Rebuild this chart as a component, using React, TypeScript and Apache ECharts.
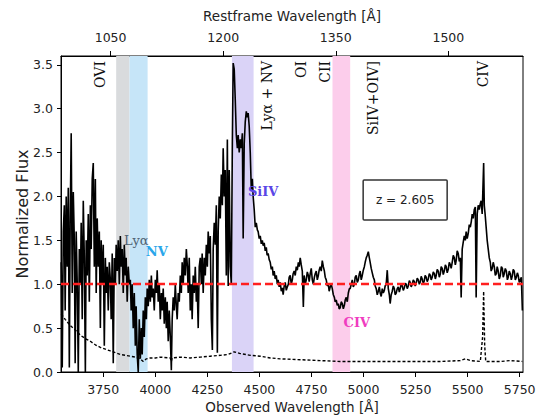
import React, { useEffect, useRef } from "react";
import * as echarts from "echarts";

// ---------- data ----------
const redshift = 2.605;
const obsRange = [3547, 5766];
const fluxRange = [0, 3.6];
const obsTicks = [3750, 4000, 4250, 4500, 4750, 5000, 5250, 5500, 5750];
const restTicks = [1050, 1200, 1350, 1500];
const fluxTicks = [0, 0.5, 1, 1.5, 2, 2.5, 3, 3.5];
const continuumLevel = 1.0;

// shaded wavelength windows (observed Å)
const bandRanges = [
  [3812, 3876],
  [3876, 3963],
  [4368, 4472],
  [4851, 4936],
];

// observed spectrum
const specWave = [
  3548, 3553, 3558, 3563, 3567, 3572, 3577, 3582, 3587, 3591, 3596, 3601, 3606, 3611, 3615, 3620, 3625, 3630, 3635, 3640,
  3644, 3649, 3654, 3659, 3664, 3668, 3673, 3678, 3683, 3688, 3692, 3697, 3702, 3707, 3712, 3716, 3721, 3726, 3731, 3736,
  3740, 3745, 3750, 3755, 3760, 3764, 3769, 3774, 3779, 3784, 3788, 3793, 3798, 3803, 3808, 3812, 3817, 3822, 3827, 3832,
  3836, 3841, 3846, 3851, 3856, 3860, 3865, 3870, 3875, 3880, 3884, 3889, 3894, 3899, 3904, 3908, 3913, 3918, 3923, 3928,
  3933, 3937, 3942, 3947, 3952, 3957, 3961, 3966, 3971, 3976, 3981, 3985, 3990, 3995, 4000, 4005, 4009, 4014, 4019, 4024,
  4029, 4033, 4038, 4043, 4048, 4053, 4057, 4062, 4067, 4072, 4077, 4081, 4086, 4091, 4096, 4101, 4105, 4110, 4115, 4120,
  4125, 4129, 4134, 4139, 4144, 4149, 4154, 4158, 4163, 4168, 4173, 4177, 4182, 4187, 4192, 4197, 4201, 4206, 4211, 4216,
  4221, 4225, 4230, 4235, 4240, 4245, 4250, 4254, 4259, 4264, 4269, 4274, 4278, 4283, 4288, 4293, 4298, 4302, 4307, 4312,
  4317, 4322, 4326, 4331, 4336, 4341, 4346, 4350, 4355, 4360, 4365, 4370, 4374, 4379, 4384, 4389, 4394, 4398, 4403, 4408,
  4413, 4418, 4422, 4427, 4432, 4437, 4442, 4446, 4451, 4456, 4461, 4466, 4470, 4475, 4480, 4485, 4490, 4494, 4499, 4504,
  4509, 4514, 4518, 4523, 4528, 4533, 4537, 4542, 4547, 4552, 4557, 4562, 4566, 4571, 4576, 4581, 4586, 4590, 4595, 4600,
  4605, 4610, 4614, 4619, 4624, 4629, 4634, 4639, 4643, 4648, 4653, 4658, 4662, 4667, 4672, 4677, 4682, 4687, 4691, 4696,
  4701, 4706, 4711, 4715, 4720, 4725, 4730, 4735, 4739, 4744, 4749, 4754, 4759, 4764, 4768, 4773, 4778, 4783, 4787, 4792,
  4797, 4802, 4807, 4812, 4816, 4821, 4826, 4831, 4835, 4840, 4845, 4850, 4855, 4860, 4864, 4869, 4874, 4879, 4883, 4888,
  4893, 4898, 4903, 4908, 4912, 4917, 4922, 4927, 4932, 4936, 4941, 4946, 4951, 4956, 4960, 4965, 4970, 4975, 4980, 4984,
  4989, 4994, 4999, 5004, 5008, 5013, 5018, 5023, 5028, 5032, 5037, 5042, 5047, 5052, 5056, 5061, 5066, 5071, 5076, 5080,
  5085, 5090, 5095, 5100, 5104, 5109, 5114, 5119, 5124, 5128, 5133, 5138, 5143, 5148, 5152, 5157, 5162, 5167, 5172, 5176,
  5181, 5186, 5191, 5196, 5200, 5205, 5210, 5215, 5220, 5224, 5229, 5234, 5239, 5244, 5248, 5253, 5258, 5263, 5268, 5273,
  5277, 5282, 5287, 5292, 5296, 5301, 5306, 5311, 5316, 5321, 5325, 5330, 5335, 5340, 5345, 5349, 5354, 5359, 5364, 5369,
  5373, 5378, 5383, 5388, 5393, 5397, 5402, 5407, 5412, 5417, 5421, 5426, 5431, 5436, 5441, 5445, 5450, 5455, 5460, 5465,
  5469, 5474, 5479, 5484, 5489, 5493, 5498, 5503, 5508, 5513, 5518, 5522, 5527, 5532, 5537, 5541, 5546, 5551, 5556, 5561,
  5565, 5570, 5577, 5580, 5584, 5589, 5594, 5599, 5604, 5609, 5613, 5618, 5623, 5628, 5633, 5638, 5642, 5647, 5652, 5657,
  5662, 5667, 5671, 5676, 5681, 5686, 5691, 5695, 5700, 5705, 5710, 5715, 5719, 5724, 5729, 5734, 5739, 5743, 5748, 5753,
  5758, 5763,
];
const specFlux = [
  1.25, 0.05, 1.6, 1.9, 0.7, 2.0, 1.2, 2.1, 0.05, 1.7, 2.72, 0.9, 2.05, 1.5, 0.1, 1.6, 1.0, 0.0, 1.4, 1.0,
  1.7, 0.6, 1.95, 1.3, 0.0, 1.5, 1.1, 1.8, 0.8, 1.9, 1.4, 2.2, 2.38, 1.2, 2.2, 0.9, 1.75, 1.2, 1.6, 0.5,
  1.5, 1.0, 1.45, 0.3, 1.3, 0.9, 1.2, 0.7, 1.25, 1.05, 0.6, 1.35, 0.1, 1.3, 1.0, 1.45, 1.15, 1.5, 1.0, 1.55,
  1.2, 1.4, 0.9, 1.45, 1.1, 1.3, 0.8, 1.2, 1.0, 1.05, 0.7, 1.0, 0.5, 0.9, 0.3, 0.75, 0.2, 0.0, 0.6, 0.15,
  0.5, 0.2, 0.7, 0.4, 0.85, 0.6, 0.95, 0.75, 1.05, 0.8, 1.1, 0.85, 0.95, 0.7, 1.05, 0.9, 1.16, 0.8, 1.0, 0.6,
  0.9, 0.7, 0.95, 0.55, 0.85, 0.5, 0.8, 0.35, 0.7, 0.4, 0.02, 0.6, 0.85, 0.7, 1.0, 0.75, 0.6, 0.9, 0.8, 1.1,
  0.9, 1.25, 1.0, 1.3, 1.1, 1.4, 1.2, 0.9, 1.3, 0.7, 1.0, 0.6, 1.1, 0.9, 1.2, 0.8, 1.0, 0.5, 1.2, 1.3,
  1.0, 1.35, 0.9, 1.3, 1.1, 1.45, 1.2, 1.6, 1.35, 1.55, 0.6, 0.25, 1.4, 1.7, 1.45, 1.9, 0.22, 1.6, 2.0, 1.75,
  2.25, 1.9, 2.55, 2.0, 2.3, 1.1, 2.65, 0.98, 2.3, 1.2, 1.0, 2.6, 3.52, 3.45, 3.1, 2.7, 2.55, 2.7, 2.5, 2.65,
  2.55, 2.72, 1.52, 2.6, 2.85, 2.97, 2.9, 2.95, 2.8, 2.5, 2.08, 2.2, 2.0, 1.85, 1.65, 1.7, 1.62, 1.6, 1.52, 1.55,
  1.46, 1.5, 1.44, 1.47, 1.38, 1.42, 1.33, 1.35, 1.28, 1.25, 1.17, 1.2, 1.1, 1.15, 1.06, 1.1, 1.0, 1.05, 0.97, 1.02,
  0.92, 0.96, 0.88, 0.98, 1.02, 0.93, 0.97, 1.0, 1.08, 1.1, 1.0, 1.05, 1.12, 1.15, 1.1, 1.2, 1.16, 1.25, 1.2, 1.3,
  1.22, 1.15, 0.74, 1.1, 1.0, 1.05, 1.14, 1.1, 1.03, 1.12, 1.18, 1.05, 1.0, 1.08, 1.12, 1.15, 1.05, 1.1, 1.16, 1.2,
  1.15, 1.27, 1.2, 1.15, 1.08, 1.05, 0.98, 1.0, 0.92, 0.97, 1.0, 0.95, 0.88, 0.85, 0.8, 0.82, 0.76, 0.78, 0.72, 0.73,
  0.8, 0.78, 0.72, 0.76, 0.82, 0.85, 0.8, 0.9, 0.95, 0.95, 1.0, 1.05, 0.97, 1.0, 1.08, 1.1, 1.02, 1.05, 1.12, 1.15,
  1.05, 1.1, 1.16, 1.2, 1.25, 1.3, 1.33, 1.37, 1.3, 1.25, 1.18, 1.13, 1.08, 1.05, 0.98, 0.95, 0.88, 0.92, 0.97, 0.9,
  0.86, 0.95, 0.9, 0.93, 0.98, 1.0, 1.16, 0.95, 0.88, 0.78, 0.88, 0.92, 0.98, 0.95, 0.88, 0.9, 0.95, 0.97, 0.91, 0.95,
  1.0, 0.98, 0.93, 0.96, 1.01, 1.0, 0.95, 0.98, 1.04, 1.02, 0.97, 1.0, 1.05, 1.03, 0.98, 1.01, 1.07, 1.05, 1.0, 1.03,
  1.09, 1.06, 1.01, 1.04, 1.1, 1.08, 1.03, 1.06, 1.12, 1.1, 1.05, 1.08, 1.14, 1.12, 1.06, 1.1, 1.17, 1.15, 1.08, 1.12,
  1.2, 1.18, 1.11, 1.15, 1.22, 1.2, 1.13, 1.17, 1.25, 1.22, 1.18, 1.25, 1.33, 1.3, 1.22, 1.27, 1.38, 1.35, 1.26, 1.3,
  0.85, 1.4, 1.48, 1.55, 1.5, 1.6, 1.52, 1.58, 1.68, 1.65, 1.72, 1.8, 1.75, 1.85, 1.88, 0.85, 1.8, 1.9, 1.85, 1.92,
  1.95, 1.8, 2.38, 1.9, 1.8, 1.65, 1.5, 1.4, 1.3, 1.25, 1.15, 1.18, 1.25, 1.2, 1.1, 1.12, 1.2, 1.15, 1.06, 1.1,
  1.2, 1.18, 1.08, 1.12, 1.18, 1.15, 1.05, 1.08, 1.15, 1.12, 1.05, 1.1, 1.17, 1.15, 1.05, 1.08, 1.13, 1.1, 1.02, 1.05,
  1.08, 0.7,
];

// error spectrum
const errWave = [
  3548, 3567, 3591, 3615, 3640, 3664, 3688, 3712, 3736, 3760, 3784, 3808, 3832, 3856, 3880, 3904, 3928, 3942, 3957, 3976,
  4000, 4024, 4072, 4077, 4081, 4120, 4168, 4216, 4264, 4312, 4350, 4379, 4408, 4456, 4504, 4552, 4600, 4696, 4792, 4888,
  4984, 5176, 5369, 5465, 5489, 5513, 5561, 5572, 5577, 5582, 5587, 5657, 5705, 5763,
];
const errFlux = [
  0.66, 0.6, 0.53, 0.48, 0.42, 0.38, 0.35, 0.31, 0.28, 0.26, 0.24, 0.22, 0.2, 0.19, 0.18, 0.17, 0.15, 0.12, 0.15, 0.16,
  0.16, 0.17, 0.16, 0.12, 0.16, 0.17, 0.16, 0.17, 0.18, 0.19, 0.2, 0.23, 0.21, 0.19, 0.18, 0.16, 0.15, 0.14, 0.13, 0.12,
  0.12, 0.12, 0.12, 0.13, 0.15, 0.13, 0.12, 0.4, 0.92, 0.3, 0.12, 0.12, 0.13, 0.12,
];

// emission line identifications (observed Å)
const lineNames = ["OVI", "Lyα + NV", "OI", "CII", "SiIV+OIV]", "CIV"];
const lineWaves = [3732, 4536, 4698, 4813, 5044, 5573];

// coloured feature tags
const tagNames = ["Lyα", "NV", "SiIV", "CIV"];
const tagWaves = [3909, 4007, 4518, 4968];
const tagFlux = [1.5, 1.37, 2.06, 0.56];

const redshiftText = "z = 2.605";
const redshiftAt = [5200, 1.96];

// ---------- styles ----------
const bandColors = ["#d9dbdd", "#c6e5f8", "#dad3f7", "#fccdeb"];
const tagColors = ["#4f6273", "#2aa6ea", "#5a46e6", "#f03cc0"];
const tagWeights = ["normal", "bold", "bold", "bold"];
const sans = "DejaVu Sans";
const serif = "DejaVu Serif";

export default function App() {
  const ref = useRef<HTMLDivElement>(null);

  useEffect(() => {
    if (!ref.current) return;
    const chart = echarts.init(ref.current, undefined, { renderer: "svg" });

    const specData = specWave.map((w, i) => [w, specFlux[i]]);
    const errData = errWave.map((w, i) => [w, errFlux[i]]);

    const axisLine = { show: true, lineStyle: { color: "#000", width: 1 } };
    const labelStyle = { color: "#222", fontFamily: sans, fontSize: 12.5 };
    const nameStyle = { color: "#222", fontFamily: sans, fontSize: 13.5 };
    const plain = (v: number) => String(v);

    chart.setOption({
      animation: false,
      backgroundColor: "#fff",
      grid: {
        left: 61,
        right: 22,
        top: 56,
        bottom: 44,
        outerBoundsMode: "none",
        containLabel: false,
        show: true,
        borderColor: "#000",
        borderWidth: 1,
        backgroundColor: "transparent",
      },
      xAxis: [
        {
          type: "value",
          position: "bottom",
          min: obsRange[0],
          max: obsRange[1],
          axisLine,
          axisTick: { show: true, length: 5, customValues: obsTicks, lineStyle: { color: "#000" } },
          axisLabel: { ...labelStyle, margin: 11, customValues: obsTicks, formatter: plain },
          splitLine: { show: false },
          name: "Observed Wavelength [Å]",
          nameLocation: "middle",
          nameGap: 28,
          nameMoveOverlap: false,
          nameTextStyle: nameStyle,
        },
        {
          type: "value",
          position: "top",
          min: obsRange[0] / (1 + redshift),
          max: obsRange[1] / (1 + redshift),
          axisLine,
          axisTick: { show: true, length: 5, customValues: restTicks, lineStyle: { color: "#000" } },
          axisLabel: { ...labelStyle, margin: 12, customValues: restTicks, formatter: plain },
          splitLine: { show: false },
          name: "Restframe Wavelength [Å]",
          nameLocation: "middle",
          nameGap: 33,
          nameMoveOverlap: false,
          nameTextStyle: nameStyle,
        },
      ],
      yAxis: [
        {
          type: "value",
          min: fluxRange[0],
          max: fluxRange[1],
          axisLine,
          axisTick: { show: true, length: 4, customValues: fluxTicks, lineStyle: { color: "#000" } },
          axisLabel: {
            ...labelStyle,
            margin: 8,
            customValues: fluxTicks,
            formatter: (v: number) => v.toFixed(1),
          },
          splitLine: { show: false },
          name: "Normalized Flux",
          nameLocation: "middle",
          nameGap: 31,
          nameMoveOverlap: false,
          nameTextStyle: { ...nameStyle, fontSize: 16 },
        },
      ],
      series: [
        {
          name: "error",
          type: "line",
          xAxisIndex: 0,
          yAxisIndex: 0,
          data: errData,
          showSymbol: false,
          lineStyle: { color: "#000", width: 1.4, type: [3, 2] },
        },
        {
          name: "flux",
          type: "line",
          xAxisIndex: 0,
          yAxisIndex: 0,
          data: specData,
          showSymbol: false,
          lineStyle: { color: "#000", width: 1.6 },
          markArea: {
            silent: true,
            data: bandRanges.map((r, i) => [
              { xAxis: r[0], itemStyle: { color: bandColors[i], opacity: 1 } },
              { xAxis: r[1] },
            ]),
          },
          markLine: {
            silent: true,
            symbol: ["none", "none"],
            label: { show: false },
            lineStyle: { color: "#ff1f1f", width: 2.4, type: [8, 4] },
            data: [{ yAxis: continuumLevel }],
          },
        },
      ],
    });

    const toPx = (x: number, y: number) =>
      chart.convertToPixel({ xAxisIndex: 0, yAxisIndex: 0 }, [x, y]) as number[];

    const graphics: any[] = [];
    lineNames.forEach((name, i) => {
      const p = toPx(lineWaves[i], fluxRange[1]);
      graphics.push({
        type: "text",
        x: p[0],
        y: p[1] + 5,
        rotation: Math.PI / 2,
        z: 100,
        style: {
          text: name,
          fill: "#111",
          fontFamily: serif,
          fontSize: 14,
          align: "right",
          verticalAlign: "middle",
        },
      });
    });
    tagNames.forEach((name, i) => {
      const p = toPx(tagWaves[i], tagFlux[i]);
      graphics.push({
        type: "text",
        x: p[0],
        y: p[1],
        z: 100,
        style: {
          text: name,
          fill: tagColors[i],
          fontFamily: serif,
          fontSize: 13,
          fontWeight: tagWeights[i],
          align: "center",
          verticalAlign: "middle",
        },
      });
    });
    const zc = toPx(redshiftAt[0], redshiftAt[1]);
    graphics.push({
      type: "rect",
      z: 100,
      shape: { x: zc[0] - 42, y: zc[1] - 20, width: 84, height: 40, r: 1 },
      style: { fill: "#fff", stroke: "#333", lineWidth: 1.5 },
    });
    graphics.push({
      type: "text",
      x: zc[0],
      y: zc[1],
      z: 101,
      style: {
        text: redshiftText,
        fill: "#222",
        fontFamily: sans,
        fontSize: 12,
        align: "center",
        verticalAlign: "middle",
      },
    });
    chart.setOption({ graphic: graphics });

    return () => chart.dispose();
  }, []);

  return (
    <div
      ref={ref}
      style={{ position: "absolute", left: 0, top: 0, width: 545, height: 416, background: "#fff" }}
    />
  );
}
